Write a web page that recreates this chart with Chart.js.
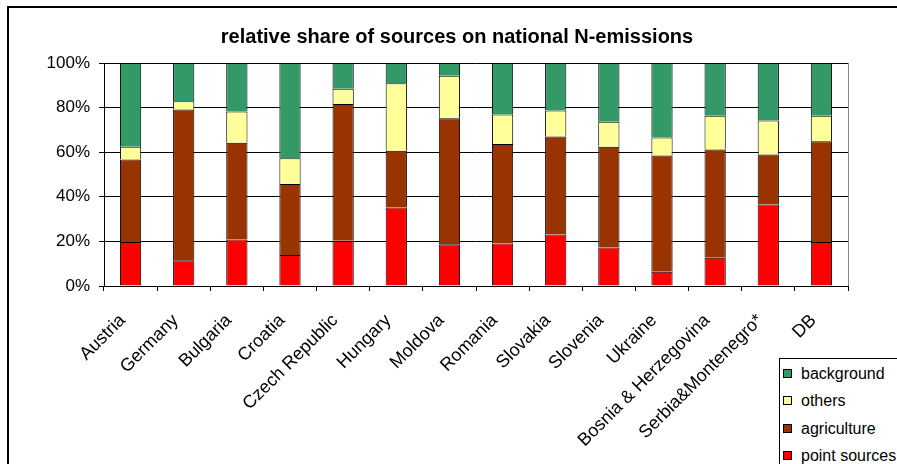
<!DOCTYPE html>
<html>
<head>
<meta charset="utf-8">
<script src="https://cdn.jsdelivr.net/npm/chart.js"></script>
<style>
  body { margin: 0; background: #fff; overflow: hidden; }
  #wrap { position: relative; width: 897px; height: 464px; overflow: hidden; }
  #frame { position: absolute; left: 7px; top: 6px; width: 1000px; height: 1000px; border: 2px solid #000; }
  #myChart { position: absolute; left: 0; top: 0; }
  #legend { position: absolute; left: 779px; top: 358px; width: 200px; height: 200px; border: 1px solid #000; background: #fff;
            font-family: "Liberation Sans", Arial, sans-serif; font-size: 16px; color: #000; }
  #legend div { position: absolute; left: 3px; height: 20px; line-height: 20px; white-space: nowrap; }
  #legend span { display: inline-block; width: 7px; height: 7px; border: 1px solid #000; margin-right: 9px; vertical-align: 1px; }
</style>
</head>
<body>
<div id="wrap">
  <div id="frame"></div>
  <canvas id="myChart" width="897" height="464"></canvas>
  <div id="legend"></div>
</div>
<script>
const categories = ['Austria', 'Germany', 'Bulgaria', 'Croatia', 'Czech Republic', 'Hungary', 'Moldova',
  'Romania', 'Slovakia', 'Slovenia', 'Ukraine', 'Bosnia & Herzegovina', 'Serbia&Montenegro*', 'DB'];

// shares in % per country, bottom to top
const pointSources = [19.7, 11.6, 20.9, 13.9, 20.3, 35.2, 18.7, 19.1, 23.1, 17.3, 6.4, 12.7, 36.6, 19.7];
const agriculture  = [37.0, 67.5, 43.3, 31.8, 61.3, 25.5, 56.5, 44.6, 43.9, 45.1, 52.1, 48.5, 22.4, 45.2];
const others       = [5.7, 3.7, 14.0, 11.6, 6.9, 30.2, 19.1, 13.2, 11.7, 11.2, 8.1, 15.2, 15.2, 11.5];
const background   = [37.6, 17.2, 21.8, 42.7, 11.5, 9.1, 5.7, 23.1, 21.3, 26.4, 33.4, 23.6, 25.8, 23.6];

const yTicks = [0, 20, 40, 60, 80, 100];

const font = '"Liberation Sans", Arial, sans-serif';

const datasets = [
  { label: 'point sources', data: pointSources, backgroundColor: '#FF0000' },
  { label: 'agriculture', data: agriculture, backgroundColor: '#993300' },
  { label: 'others', data: others, backgroundColor: '#FFFF99' },
  { label: 'background', data: background, backgroundColor: '#339966' }
].map(d => Object.assign(d, { borderColor: '#000', borderWidth: 1, barPercentage: 0.4, categoryPercentage: 1 }));

// grey right edge of the plot area
const plotBorder = {
  id: 'plotBorder',
  afterDatasetsDraw(chart) {
    const a = chart.chartArea, ctx = chart.ctx;
    ctx.save();
    ctx.strokeStyle = '#888';
    ctx.lineWidth = 1;
    ctx.beginPath();
    ctx.moveTo(Math.round(a.right) + 0.5, a.top);
    ctx.lineTo(Math.round(a.right) + 0.5, a.bottom);
    ctx.stroke();
    ctx.restore();
  }
};

const ctx = document.getElementById('myChart').getContext('2d');
const chart = new Chart(ctx, {
  type: 'bar',
  data: { labels: categories, datasets: datasets },
  options: {
    responsive: false,
    animation: false,
    layout: { padding: { left: 17, right: 0, top: 0, bottom: 0 } },
    plugins: {
      legend: { display: false },
      tooltip: { enabled: false },
      title: {
        display: true,
        text: 'relative share of sources on national N-emissions',
        color: '#000',
        font: { family: font, size: 20, weight: 'bold' },
        padding: { top: 25, bottom: 14 }
      }
    },
    scales: {
      x: {
        stacked: true,
        grid: { drawOnChartArea: false, color: '#000', tickLength: 5 },
        border: { color: '#000', width: 1 },
        ticks: { color: '#000', font: { family: font, size: 18 }, minRotation: 45, maxRotation: 45,
                 padding: 19, labelOffset: -8, autoSkip: false },
        afterFit: (scale) => { scale.height = 178; }
      },
      y: {
        stacked: true,
        min: 0,
        max: 100,
        grid: { color: '#000', tickLength: 5 },
        border: { color: '#000', width: 1 },
        afterBuildTicks: (scale) => { scale.ticks = yTicks.map(v => ({ value: v })); },
        ticks: { color: '#000', font: { family: font, size: 17 }, padding: 9, callback: (v) => v + '%' },
        afterFit: (scale) => { scale.width = 87; }
      },
      // empty axis on the right, keeps the margin beside the plot
      yRight: {
        position: 'right',
        min: 0,
        max: 100,
        grid: { drawOnChartArea: false, drawTicks: false },
        border: { display: false },
        ticks: { display: false },
        afterFit: (scale) => { scale.width = 49; }
      }
    }
  },
  plugins: [plotBorder]
});

// legend in the bottom right box, top entry first
const legend = document.getElementById('legend');
datasets.slice().reverse().forEach((d, i) => {
  const row = document.createElement('div');
  row.style.top = (5 + i * 27.3) + 'px';
  row.innerHTML = '<span style="background:' + d.backgroundColor + '"></span>' + d.label;
  legend.appendChild(row);
});
</script>
</body>
</html>
